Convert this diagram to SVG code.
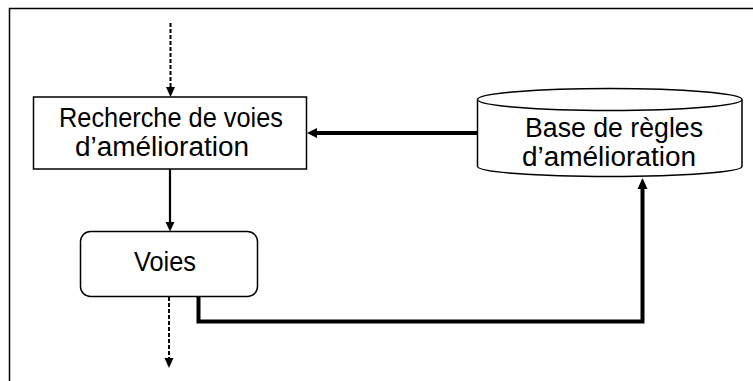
<svg xmlns="http://www.w3.org/2000/svg" width="753" height="381" viewBox="0 0 753 381">
<style>
.frame{fill:none;stroke:#000;stroke-width:1.5}
.node{fill:#fff;stroke:#000;stroke-width:1.5}
.lbl{font-family:"Liberation Sans",Arial,sans-serif;font-size:27px;fill:#000;text-anchor:middle}
.dash{fill:none;stroke:#000;stroke-width:2;stroke-dasharray:4,2}
.thin{fill:none;stroke:#000;stroke-width:2.2}
.thick{fill:none;stroke:#000;stroke-width:4}
.head{fill:#000;stroke:none}
</style>
<rect x="0" y="0" width="753" height="381" fill="#fff"/>
<rect class="frame" x="9.5" y="8.5" width="800" height="420"/>
<g id="recherche">
<rect class="node" x="33.5" y="97" width="273" height="72"/>
<text class="lbl" x="171" y="127" textLength="224" lengthAdjust="spacingAndGlyphs">Recherche de voies</text>
<text class="lbl" x="162" y="156" textLength="174" lengthAdjust="spacingAndGlyphs">d’amélioration</text>
</g>
<g id="base">
<path class="node" d="M477.5,99.5 L477.5,166.5 A132.25,10 0 0 0 742,166.5 L742,99.5 A132.25,11 0 0 0 477.5,99.5 Z"/>
<path class="node" fill="none" d="M477.5,99.5 A132.25,11 0 0 0 742,99.5"/>
<text class="lbl" x="614" y="137" textLength="178" lengthAdjust="spacingAndGlyphs">Base de règles</text>
<text class="lbl" x="609" y="166" textLength="174" lengthAdjust="spacingAndGlyphs">d’amélioration</text>
</g>
<g id="voies">
<rect class="node" x="80.5" y="231.5" width="177" height="65" rx="10" ry="10"/>
<text class="lbl" x="165" y="271" textLength="62" lengthAdjust="spacingAndGlyphs">Voies</text>
</g>
<g id="connectors">
<line class="dash" x1="170.5" y1="23" x2="170.5" y2="88"/>
<polygon class="head" points="170.5,97 166,87 175,87"/>
<line class="thin" x1="170" y1="169" x2="170" y2="223"/>
<polygon class="head" points="170,231.5 165.5,222 174.5,222"/>
<line class="dash" x1="169" y1="297" x2="169" y2="359"/>
<polygon class="head" points="169,368 164.5,358 173.5,358"/>
<line class="thick" x1="477" y1="133" x2="315" y2="133"/>
<polygon class="head" points="307,133 317,128 317,138"/>
<polyline class="thick" points="198.5,297 198.5,321.5 642.5,321.5 642.5,187"/>
<polygon class="head" points="642.5,178 637.5,189 647.5,189"/>
</g>
</svg>
